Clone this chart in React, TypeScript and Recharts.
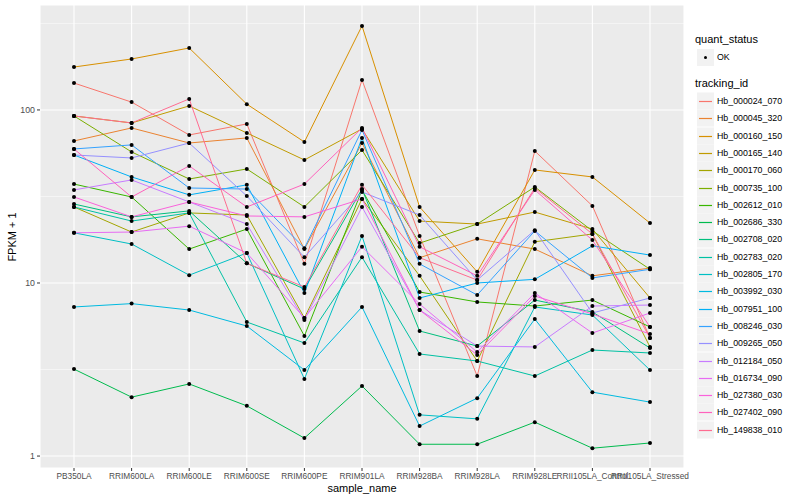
import React from 'react';
import { LineChart, Line, XAxis, YAxis, CartesianGrid, ReferenceLine } from 'recharts';

const sampleNames = [
  'PB350LA', 'RRIM600LA', 'RRIM600LE', 'RRIM600SE', 'RRIM600PE', 'RRIM901LA',
  'RRIM928BA', 'RRIM928LA', 'RRIM928LE', 'RRII105LA_Control', 'RRII105LA_Stressed',
];

const trackingIds = [
  'Hb_000024_070', 'Hb_000045_320', 'Hb_000160_150', 'Hb_000165_140', 'Hb_000170_060',
  'Hb_000735_100', 'Hb_002612_010', 'Hb_002686_330', 'Hb_002708_020', 'Hb_002783_020',
  'Hb_002805_170', 'Hb_003992_030', 'Hb_007951_100', 'Hb_008246_030', 'Hb_009265_050',
  'Hb_012184_050', 'Hb_016734_090', 'Hb_027380_030', 'Hb_027402_090', 'Hb_149838_010',
];

// ggplot default hue palette, 20 levels
const hueColors = [
  '#F8766D', '#EA8331', '#D89000', '#C09B00', '#A3A500', '#7CAE00', '#39B600', '#00BB4E',
  '#00BF7D', '#00C1A3', '#00BFC4', '#00BAE0', '#00B0F6', '#35A2FF', '#9590FF', '#C77CFF',
  '#E76BF3', '#FA62DB', '#FF62BC', '#FF6C91',
];

// FPKM + 1, one array per tracking_id, in sampleNames order
const hb000024_070 = [143, 111, 71.7, 83, 12.9, 149, 18.7, 2.9, 57.9, 27.9, 4.81];
const hb000045_320 = [66.2, 78.7, 64.4, 68.9, 15.7, 64.4, 14.0, 18.0, 15.7, 11.0, 12.2];
const hb000160_150 = [177, 197, 228, 108, 65.3, 306, 27.5, 11.6, 45.0, 41.0, 22.2];
const hb000165_140 = [92.3, 84.1, 105.5, 73.6, 51.4, 77.7, 22.8, 21.9, 25.7, 20.5, 8.19];
const hb000170_060 = [27.5, 19.7, 25.4, 24.7, 6.28, 30.6, 11.0, 3.54, 17.3, 19.2, 4.27];
const hb000735_100 = [92.3, 57.2, 39.9, 45.6, 27.5, 58.7, 17.0, 21.9, 35.9, 20.0, 12.0];
const hb002612_010 = [37.3, 31.4, 15.7, 20.5, 4.94, 34.5, 8.87, 7.77, 7.36, 7.97, 5.57];
const hb002686_330 = [3.18, 2.19, 2.61, 1.95, 1.27, 2.54, 1.17, 1.17, 1.57, 1.11, 1.19];
const hb002708_020 = [28.6, 24.1, 26.1, 13.0, 9.23, 34.9, 5.28, 4.32, 7.97, 6.8, 4.21];
const hb002783_020 = [27.5, 22.8, 25.4, 5.95, 4.5, 14.1, 3.89, 3.54, 2.9, 4.1, 3.94];
const hb002805_170 = [19.5, 16.8, 11.1, 14.9, 2.79, 18.7, 1.73, 1.64, 7.27, 6.53, 3.14];
const hb003992_030 = [7.27, 7.6, 6.98, 5.64, 3.14, 7.27, 1.49, 2.16, 6.19, 2.34, 2.05];
const hb007951_100 = [54.9, 41.0, 32.3, 36.9, 8.75, 68.9, 8.19, 10.0, 10.5, 16.4, 14.5];
const hb008246_030 = [59.5, 62.8, 35.4, 34.9, 15.9, 76.6, 12.9, 8.52, 20.0, 10.7, 12.0];
const hb009265_050 = [54.9, 52.8, 64.4, 31.8, 14.1, 33.6, 24.7, 10.4, 20.2, 6.71, 8.19];
const hb012184_050 = [34.5, 39.4, 29.4, 21.9, 6.11, 27.5, 6.98, 4.32, 4.27, 7.36, 7.46];
const hb016734_090 = [19.5, 19.7, 21.3, 14.9, 6.28, 16.2, 7.56, 3.99, 8.75, 5.14, 6.71];
const hb027380_030 = [31.4, 24.1, 29.4, 24.4, 24.1, 30.6, 6.98, 3.84, 8.41, 6.62, 5.07];
const hb027402_090 = [59.5, 31.4, 47.5, 27.5, 37.3, 78.7, 16.2, 11.0, 34.5, 17.7, 5.57];
const hb149838_010 = [92.3, 84.1, 115.8, 13.0, 9.48, 36.9, 14.0, 10.4, 35.4, 19.2, 4.81];

const seriesValues = [
  hb000024_070, hb000045_320, hb000160_150, hb000165_140, hb000170_060,
  hb000735_100, hb002612_010, hb002686_330, hb002708_020, hb002783_020,
  hb002805_170, hb003992_030, hb007951_100, hb008246_030, hb009265_050,
  hb012184_050, hb016734_090, hb027380_030, hb027402_090, hb149838_010,
];

const yTicks = [1, 10, 100];
const minorBreaks = [3.162, 31.62, 316.2];

const rows = sampleNames.map((name, i) => {
  const row: Record<string, number | string> = { sample_name: name };
  trackingIds.forEach((id, s) => {
    row[id] = seriesValues[s][i];
  });
  return row;
});

const font = '"Liberation Sans", Arial, sans-serif';

const BlackDot = (props: any) => {
  const { cx, cy } = props;
  if (cx == null || cy == null) return null;
  return <circle cx={cx} cy={cy} r={2} fill="#000" />;
};

const App = () => {
  return (
    <div style={{ position: 'absolute', left: 0, top: 0, width: 800, height: 500, background: '#fff', fontFamily: font }}>
      <LineChart
        width={800}
        height={500}
        data={rows}
        margin={{ top: 5, right: 116, bottom: 0, left: 0 }}
      >
        <CartesianGrid fill="#EBEBEB" stroke="#FFFFFF" strokeWidth={1.1} />
        {minorBreaks.map((v) => (
          <ReferenceLine key={v} y={v} stroke="#FFFFFF" strokeWidth={0.5} ifOverflow="hidden" />
        ))}
        <XAxis
          dataKey="sample_name"
          interval={0}
          padding={{ left: 34, right: 34 }}
          height={32}
          tickSize={3}
          tickLine={{ stroke: '#333333' }}
          axisLine={false}
          tick={{ fill: '#4D4D4D', fontSize: 8.3, fontFamily: font }}
        />
        <YAxis
          scale="log"
          domain={[0.853, 404]}
          allowDataOverflow
          ticks={yTicks}
          width={40}
          tickSize={3}
          tickLine={{ stroke: '#333333' }}
          axisLine={false}
          tick={{ fill: '#4D4D4D', fontSize: 8.8, fontFamily: font }}
        />
        {trackingIds.map((id, s) => (
          <Line
            key={id}
            type="linear"
            dataKey={id}
            stroke={hueColors[s]}
            strokeWidth={1}
            dot={<BlackDot />}
            activeDot={false}
            isAnimationActive={false}
          />
        ))}
      </LineChart>

      <div style={{ position: 'absolute', left: 0, width: 724, top: 482, textAlign: 'center', fontSize: 11, color: '#000' }}>
        sample_name
      </div>
      <div
        style={{
          position: 'absolute', left: 12, top: 237, fontSize: 11, color: '#000',
          transform: 'translate(-50%, -50%) rotate(-90deg)', whiteSpace: 'nowrap',
        }}
      >
        FPKM + 1
      </div>

      <div style={{ position: 'absolute', left: 695, top: 33, fontSize: 11, color: '#000' }}>quant_status</div>
      <div style={{ position: 'absolute', left: 697, top: 49, width: 17, height: 17, background: '#F2F2F2' }}>
        <div style={{ position: 'absolute', left: 7, top: 7, width: 3, height: 3, borderRadius: 2, background: '#000' }} />
      </div>
      <div style={{ position: 'absolute', left: 717, top: 52, fontSize: 8.8, color: '#000' }}>OK</div>

      <div style={{ position: 'absolute', left: 695, top: 77, fontSize: 11, color: '#000' }}>tracking_id</div>
      <svg style={{ position: 'absolute', left: 0, top: 0 }} width={800} height={500} pointerEvents="none">
        {trackingIds.map((id, s) => {
          const cy = Math.round(101 + s * 17.3);
          return (
            <g key={id}>
              <rect x={697} y={cy - 8.5} width={17} height={17} fill="#F2F2F2" />
              <line x1={699} x2={712} y1={cy + 0.5} y2={cy + 0.5} stroke={hueColors[s]} strokeWidth={1.2} />
              <text x={717} y={cy + 3.2} fontSize={8.8} fill="#000" fontFamily={font}>{id}</text>
            </g>
          );
        })}
      </svg>
    </div>
  );
};

export default App;
